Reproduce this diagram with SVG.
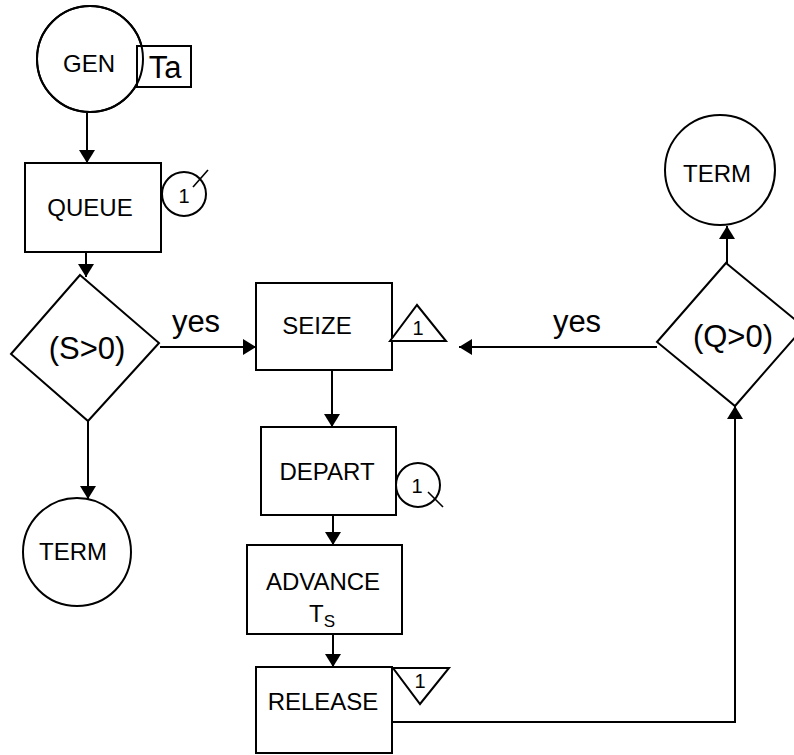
<svg xmlns="http://www.w3.org/2000/svg" width="794" height="755" viewBox="0 0 794 755">
  <defs>
    <marker id="arrow" markerUnits="userSpaceOnUse" markerWidth="14" markerHeight="16" refX="13" refY="8" orient="auto">
      <path d="M0,0 L13,8 L0,16 z" fill="#000"/>
    </marker>
    <style>
      .shape { fill: #fff; stroke: #000; stroke-width: 2; }
      .mark { fill: none; stroke: #000; stroke-width: 1.6; }
      .edge { fill: none; stroke: #000; stroke-width: 2; }
      .arrow { marker-end: url(#arrow); }
      text { font-family: "Liberation Sans", Arial, Helvetica, sans-serif; fill: #000; text-anchor: middle; }
      .lbl { font-size: 24px; }
      .big { font-size: 31px; }
      .num { font-size: 20px; }
    </style>
  </defs>
  <rect width="794" height="755" fill="#fff"/>

  <!-- connectors -->
  <g id="connectors">
    <line class="edge arrow" x1="87" y1="113" x2="87" y2="163"/>
    <line class="edge arrow" x1="86" y1="252" x2="86" y2="277"/>
    <line class="edge arrow" x1="160" y1="347" x2="256" y2="347"/>
    <line class="edge arrow" x1="88" y1="415" x2="88" y2="499"/>
    <line class="edge arrow" x1="332" y1="370" x2="332" y2="427"/>
    <line class="edge arrow" x1="333" y1="515" x2="333" y2="545"/>
    <line class="edge arrow" x1="333" y1="634" x2="333" y2="667"/>
    <polyline class="edge arrow" points="392,722 735,722 735,406"/>
    <line class="edge arrow" x1="727" y1="264" x2="727" y2="226"/>
    <line class="edge arrow" x1="657" y1="347" x2="459" y2="347"/>
    <text class="big" x="196" y="332">yes</text>
    <text class="big" x="577" y="332">yes</text>
  </g>

  <!-- GENERATE block with inter-arrival time -->
  <g id="gen">
    <circle class="shape" cx="90" cy="59" r="53"/>
    <rect class="shape" x="137" y="46" width="54" height="41"/>
    <circle cx="90" cy="59" r="53" fill="none" stroke="#000" stroke-width="2"/>
    <text class="lbl" x="89" y="72">GEN</text>
    <text class="big" x="165" y="78">Ta</text>
  </g>

  <!-- QUEUE block -->
  <g id="queue">
    <rect class="shape" x="25" y="163" width="136" height="89"/>
    <text class="lbl" x="90" y="216">QUEUE</text>
    <circle class="shape" cx="184" cy="194" r="22"/>
    <line class="mark" x1="193" y1="187" x2="208" y2="170"/>
    <text class="num" x="184" y="203">1</text>
  </g>

  <!-- test S>0 -->
  <g id="test-s">
    <polygon class="shape" points="80,275 159,343 88,421 11,354"/>
    <text class="big" x="87" y="359">(S&gt;0)</text>
  </g>

  <!-- TERMINATE after failed test -->
  <g id="term-left">
    <circle class="shape" cx="77" cy="552" r="54"/>
    <text class="lbl" x="73" y="560">TERM</text>
  </g>

  <!-- SEIZE block -->
  <g id="seize">
    <rect class="shape" x="256" y="283" width="136" height="87"/>
    <text class="lbl" x="317" y="334">SEIZE</text>
    <polygon class="shape" points="390,341 417,305 446,341"/>
    <text class="num" x="418" y="335">1</text>
  </g>

  <!-- DEPART block -->
  <g id="depart">
    <rect class="shape" x="261" y="427" width="135" height="88"/>
    <text class="lbl" x="327" y="480">DEPART</text>
    <circle class="shape" cx="418" cy="485" r="22"/>
    <line class="mark" x1="428" y1="492" x2="443" y2="507"/>
    <text class="num" x="417" y="493">1</text>
  </g>

  <!-- ADVANCE block with service time -->
  <g id="advance">
    <rect class="shape" x="247" y="545" width="155" height="89"/>
    <text class="lbl" x="323" y="590">ADVANCE</text>
    <text class="lbl" x="322" y="622">T<tspan font-size="17" dy="5">S</tspan></text>
  </g>

  <!-- RELEASE block -->
  <g id="release">
    <rect class="shape" x="256" y="667" width="136" height="86"/>
    <text class="lbl" x="323" y="710">RELEASE</text>
    <polygon class="shape" points="393,668 449,668 420,704"/>
    <text class="num" x="420" y="688">1</text>
  </g>

  <!-- test Q>0 -->
  <g id="test-q">
    <polygon class="shape" points="726,263 804,327 735,406 657,342"/>
    <text class="big" x="733" y="347">(Q&gt;0)</text>
  </g>

  <!-- TERMINATE after queue check -->
  <g id="term-right">
    <circle class="shape" cx="720" cy="170" r="55"/>
    <text class="lbl" x="717" y="182">TERM</text>
  </g>
</svg>
